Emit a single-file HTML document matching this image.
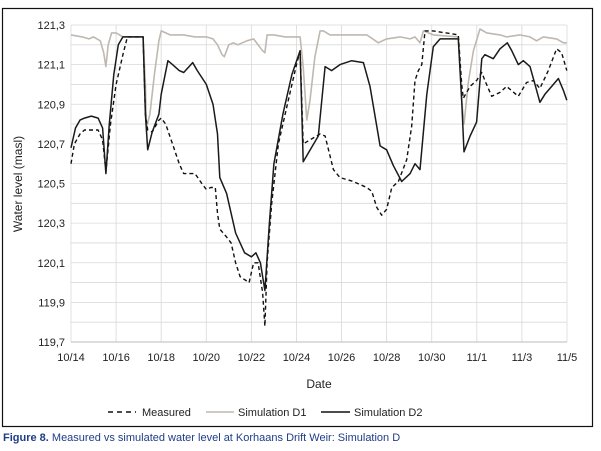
<!DOCTYPE html>
<html><head><meta charset="utf-8"><style>
body{margin:0;background:#fff;width:601px;height:446px;overflow:hidden;font-family:"Liberation Sans",sans-serif}
</style></head><body>
<svg id="chart" width="601" height="446" xmlns="http://www.w3.org/2000/svg" font-family="Liberation Sans, sans-serif">
<rect x="2.5" y="8.5" width="590" height="418" fill="#fff" stroke="#111" stroke-width="1.2"/>
<g id="grid"></g><g id="series"></g><g id="axes"></g>
<text transform="translate(22,184) rotate(-90)" text-anchor="middle" font-size="12" fill="#222">Water level  (masl)</text>
<text x="319" y="388" text-anchor="middle" font-size="12" fill="#222">Date</text>
<g font-size="11" fill="#222">
<line x1="108" y1="412" x2="136" y2="412" stroke="#111" stroke-width="1.5" stroke-dasharray="5,4"/>
<text x="142" y="416">Measured</text>
<line x1="206" y1="412" x2="234" y2="412" stroke="#bfb8b0" stroke-width="1.5"/>
<text x="238" y="416">Simulation D1</text>
<line x1="321" y1="412" x2="350" y2="412" stroke="#111" stroke-width="1.5"/>
<text x="354" y="416">Simulation D2</text>
</g>
<text x="3" y="441" font-size="11" fill="#1f3c88"><tspan font-weight="bold">Figure 8.</tspan> Measured vs simulated water level at Korhaans Drift Weir: Simulation D</text>
</svg>
<script>
const xTickLabels=["10/14","10/16","10/18","10/20","10/22","10/24","10/26","10/28","10/30","11/1","11/3","11/5"];
const yTickLabels=["119,7","119,9","120,1","120,3","120,5","120,7","120,9","121,1","121,3"];
const measuredDays=[0,0.15,0.4,0.6,0.9,1.2,1.4,1.55,1.75,2.0,2.3,2.5,3.2,3.3,3.4,3.6,3.9,4.0,4.2,4.5,4.8,5.0,5.5,5.8,6.0,6.2,6.4,6.5,6.6,6.9,7.1,7.3,7.5,7.9,8.1,8.3,8.5,8.6,8.7,8.9,9.2,9.6,10.0,10.16,10.3,10.6,11.05,11.27,11.49,11.64,11.93,12.52,13.12,13.34,13.56,13.78,14.0,14.23,14.52,14.89,15.11,15.26,15.41,15.56,15.7,16.07,17.18,17.33,17.4,17.7,17.99,18.22,18.36,18.66,19.03,19.32,19.84,20.21,20.51,20.8,21.17,21.54,21.76,21.99];
const measuredValues=[120.6,120.7,120.75,120.77,120.77,120.77,120.72,120.56,120.8,121.0,121.15,121.24,121.24,120.85,120.77,120.76,120.82,120.83,120.8,120.7,120.6,120.55,120.55,120.5,120.47,120.48,120.48,120.35,120.27,120.23,120.2,120.1,120.03,120.0,120.1,120.1,119.95,119.78,120.1,120.4,120.7,120.9,121.1,121.17,120.7,120.72,120.75,120.74,120.64,120.57,120.53,120.51,120.48,120.46,120.38,120.34,120.37,120.48,120.51,120.62,120.79,121.02,121.07,121.1,121.27,121.27,121.25,121.0,120.93,120.99,121.02,121.06,121.02,120.94,120.96,120.99,120.94,121.01,121.02,120.98,121.07,121.18,121.16,121.07];
const d1Days=[0,0.5,0.8,1.0,1.3,1.45,1.55,1.65,1.8,2.0,2.3,3.2,3.3,3.35,3.5,3.7,3.9,4.0,4.2,4.4,5.0,5.5,6.0,6.3,6.5,6.7,6.8,7.0,7.2,7.4,7.8,8.1,8.3,8.5,8.6,8.7,9.0,9.5,10.16,10.3,10.46,10.6,10.82,11.05,11.2,11.49,13.12,13.63,14.0,14.6,15.04,15.26,15.48,15.63,16.07,17.18,17.33,17.43,17.62,17.85,18.14,18.44,19.03,19.32,19.9,20.36,20.65,20.95,21.54,21.84,21.99];
const d1Values=[121.25,121.24,121.23,121.24,121.22,121.16,121.09,121.2,121.26,121.26,121.24,121.24,121.0,120.78,120.85,121.05,121.22,121.27,121.26,121.25,121.25,121.24,121.24,121.23,121.2,121.15,121.14,121.2,121.21,121.2,121.22,121.23,121.2,121.17,121.16,121.25,121.25,121.24,121.24,121.09,120.82,120.92,121.14,121.27,121.27,121.25,121.25,121.21,121.23,121.24,121.23,121.24,121.21,121.27,121.25,121.24,120.92,120.8,121.01,121.17,121.28,121.26,121.25,121.24,121.25,121.24,121.22,121.24,121.23,121.21,121.21];
const d2Days=[0,0.2,0.4,0.6,0.9,1.2,1.4,1.55,1.7,1.9,2.1,2.3,3.2,3.3,3.4,3.6,3.9,4.0,4.3,4.5,4.8,5.0,5.4,5.6,6.0,6.3,6.5,6.6,6.9,7.3,7.7,8.0,8.2,8.4,8.6,8.8,9.0,9.4,9.8,10.16,10.3,10.97,11.27,11.56,11.93,12.45,12.97,13.26,13.71,14.0,14.3,14.67,15.04,15.26,15.48,15.78,16.07,16.37,17.18,17.33,17.43,17.7,17.99,18.22,18.36,18.73,19.03,19.35,19.55,19.84,20.06,20.36,20.58,20.8,21.02,21.32,21.62,21.84,21.99];
const d2Values=[120.68,120.78,120.82,120.83,120.84,120.83,120.78,120.55,120.8,121.05,121.2,121.24,121.24,120.85,120.67,120.76,120.85,120.95,121.12,121.1,121.07,121.06,121.11,121.07,121.0,120.9,120.75,120.53,120.45,120.25,120.15,120.13,120.15,120.1,119.96,120.3,120.6,120.85,121.05,121.17,120.61,120.74,121.09,121.07,121.1,121.12,121.11,120.99,120.69,120.67,120.59,120.51,120.55,120.6,120.57,120.95,121.19,121.23,121.23,120.92,120.66,120.74,120.81,121.13,121.15,121.13,121.18,121.21,121.17,121.1,121.12,121.09,121.0,120.91,120.95,120.99,121.03,120.97,120.92];

const X0=71,X1=567,Y0=342,Y1=25,DAYS=22,VMIN=119.7,VMAX=121.3;
const xs=d=>X0+(X1-X0)*d/DAYS;
const ys=v=>Y0-(Y0-Y1)*(v-VMIN)/(VMAX-VMIN);
const NS="http://www.w3.org/2000/svg";
function mk(tag,attrs,parent){const e=document.createElementNS(NS,tag);for(const k in attrs)e.setAttribute(k,attrs[k]);parent.appendChild(e);return e;}
const grid=document.getElementById('grid'),axes=document.getElementById('axes'),ser=document.getElementById('series');
for(let i=0;i<=16;i++){const v=VMIN+i*0.1;const y=ys(v);
 const l=mk('line',{x1:X0,x2:X1,y1:y,y2:y,stroke:'#d9d9d9','stroke-width':0.8},grid);
 
 }
yTickLabels.forEach((t,i)=>{const y=ys(VMIN+i*0.2);
 const e=mk('text',{x:X0-6,y:y+4,'text-anchor':'end','font-size':11,fill:'#222'},axes);e.textContent=t;
 
 });
xTickLabels.forEach((t,i)=>{const x=xs(i*2);
 const l=mk('line',{x1:x,x2:x,y1:Y1,y2:Y0,stroke:'#d9d9d9','stroke-width':0.8},grid);
 
 
 const e=mk('text',{x:x,y:361,'text-anchor':'middle','font-size':11,fill:'#222'},axes);e.textContent=t;
 
 });
const ax=mk('line',{x1:X0,x2:X1,y1:Y0,y2:Y0,stroke:'#bbb','stroke-width':1},axes);


function line(days,vals,attrs,name){const d=days.map((t,i)=>(i?'L':'M')+xs(t).toFixed(1)+','+ys(vals[i]).toFixed(1)).join('');
 const p=mk('path',Object.assign({d:d,fill:'none','stroke-linejoin':'round'},attrs),ser);
 
 }
line(d1Days,d1Values,{stroke:'#bfb8b0','stroke-width':1.6},'simulation-d1-line');
line(measuredDays,measuredValues,{stroke:'#111','stroke-width':1.4,'stroke-dasharray':'4,3'},'measured-line');
line(d2Days,d2Values,{stroke:'#1a1a1a','stroke-width':1.5},'simulation-d2-line');
</script>
</body></html>
